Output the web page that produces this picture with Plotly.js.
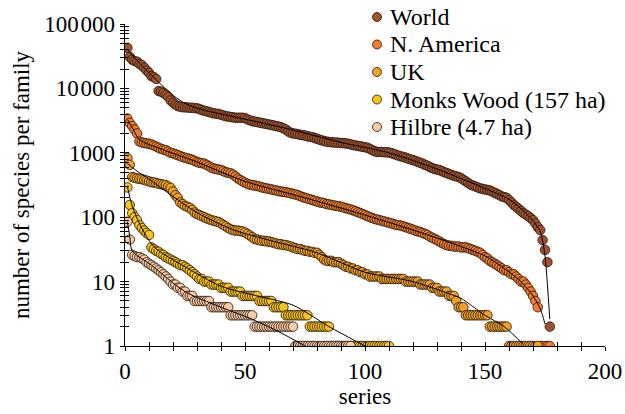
<!DOCTYPE html>
<html><head><meta charset="utf-8">
<script src="https://cdn.plot.ly/plotly-3.0.1.min.js"></script>
<style>html,body{margin:0;padding:0;background:#fff}#chart{width:625px;height:414px}</style>
</head><body><div id="chart"></div>
<script>
const seriesNames = ['World', 'N. America', 'UK', 'Monks Wood (157 ha)', 'Hilbre (4.7 ha)'];
const seriesColors = ['#a0522d', '#f07d2c', '#eea126', '#f5c518', '#f6cba8'];

const world = [42600,30800,27800,26500,26000,24000,23000,21000,19000,17500,15500,15000,14000,9100,8900,8500,8000,7400,6500,6000,
5600,5300,5200,5100,5100,5050,5000,5000,4950,4900,4800,4600,4500,4400,4300,4200,4100,4050,4000,3900,
3800,3700,3650,3600,3550,3500,3500,3500,3500,3450,3300,3200,3100,3050,3000,2950,2900,2850,2800,2750,
2700,2650,2600,2550,2500,2400,2300,2150,2050,2000,1980,1950,1900,1880,1850,1800,1780,1750,1700,1650,
1600,1560,1520,1490,1470,1460,1450,1440,1430,1420,1410,1400,1380,1350,1320,1300,1280,1260,1240,1220,
1200,1150,1100,1060,1030,1030,1030,1020,1020,1010,990,960,930,900,880,860,840,810,790,770,
750,720,700,680,650,630,600,580,560,550,540,520,500,485,470,455,440,430,420,405,
380,360,340,320,310,300,290,280,275,270,265,260,250,240,230,220,210,205,200,185,
170,155,145,135,125,116,110,104,97,90,80,70,63,44,31,20,2];

const nAmerica = [3400,2900,2600,2300,2000,1500,1450,1420,1400,1380,1350,1300,1250,1200,1150,1120,1100,1050,1000,980,
950,920,890,860,840,820,800,780,750,720,700,690,680,650,620,590,570,560,550,540,
520,500,490,480,460,430,400,380,360,345,330,320,315,310,305,300,290,285,280,275,
270,265,260,255,250,248,245,240,235,230,225,220,212,205,200,195,190,185,180,175,
170,168,165,160,158,155,152,150,148,145,142,138,135,132,128,124,120,116,112,108,
104,100,97,94,92,90,88,86,84,82,80,78,76,75,74,72,70,68,66,64,
62,60,59,57,55,53,50,48,46,44,42,40,38,37,36,36,35,35,35,34,
34,34,33,32,31,30,29,28,26,24,23,21,20,19,18,17,16,15,15,14,
13,13,12,11,10,10,9,8,7,6,5,4,1,1,1,1,1];

const uk = [830,650,420,410,400,395,390,380,370,360,350,345,340,330,325,320,315,300,285,250,
220,200,170,160,150,145,140,130,118,112,108,104,100,96,93,90,88,86,84,80,
76,72,68,65,63,62,62,61,60,58,55,52,49,46,45,44,43,43,42,42,
41,40,39,38,38,37,37,36,35,34,33,32,32,31,30,30,29,29,28,28,
26,24,22,21,21,21,20,20,20,19,18,17,17,16,16,15,15,14,14,13,
13,12,12,12,12,12,11,11,11,11,11,11,11,11,11,11,10,10,10,10,
10,10,9,9,9,9,9,8,8,8,7,7,7,7,6,6,6,5,4,4,
4,3,3,3,3,3,3,3,3,3,3,2,2,2,2,2,2,2,2,1,
1,1,1,1,1,1,1,1,1,1,1,1];

const monksWood = [290,155,116,100,90,75,68,62,57,53,34,32,30,29,27,26,24,23,22,21,
20,19,18,18,17,16,15,14,13,12,11,11,10,10,10,9,9,9,9,8,
8,8,8,7,7,7,7,7,6,6,6,6,6,6,6,5,5,5,5,5,
5,4,4,4,4,4,3,3,3,3,3,3,3,3,3,3,2,2,2,2,
2,2,2,2,2,1,1,1,1,1,1,1,1,1,1,1,1,1,1,1,
1,1,1,1,1,1,1,1,1,1];

const hilbre = [85,45,26,25,24,24,23,22,20,19,18,17,16,15,14,13,12,11,10,9,
9,8,8,7,7,6,6,6,5,5,5,5,5,5,5,4,4,4,4,4,
4,4,4,3,3,3,3,3,3,3,3,3,3,2,2,2,2,2,2,2,
2,2,2,2,2,2,2,2,2,2,1,1,1,1,1,1,1,1,1,1,
1,1,1,1,1,1,1,1,1,1,1,1,1,1];

// fitted curves (knots)
const fitWorldX = [1,5,10,15,20,26,33,45,65,90,110,130,150,160,166,170,173,175,176,177];
const fitWorldY = [40000,27000,17500,11500,7800,5600,4600,3650,2500,1450,1000,560,280,190,125,88,60,25,9,2.6];
const fitNAmX = [1,3,6,15,30,50,75,100,125,140,150,158,165,170,173,175];
const fitNAmY = [3300,2500,1600,1150,720,360,200,108,55,35,25,16,10,6,3.8,2.2];
const fitUKX = [1,5,10,20,30,45,60,80,100,120,135,140,150,158,166];
const fitUKY = [680,520,390,210,118,64,44,28,14,10,6.5,5.5,3,2,1.05];
const fitMWX = [1,3,6,12,25,40,55,70,85,100];
const fitMWY = [300,150,80,35,17,8.5,6,4.3,2,1];
const fitHilX = [1,2,3,11,25,40,53,65,75];
const fitHilY = [85,50,30,18,7,4,2.6,1.6,1];

const seriesData = [world, nAmerica, uk, monksWood, hilbre];
const fits = [[fitWorldX,fitWorldY],[fitNAmX,fitNAmY],[fitUKX,fitUKY],[fitMWX,fitMWY],[fitHilX,fitHilY]];

const markerLine = 'rgba(50,30,15,0.85)';
const traces = [];
seriesData.forEach((vals, i) => {
  traces.push({
    type: 'scatter', mode: 'markers', name: seriesNames[i],
    x: vals.map((v, k) => k + 1), y: vals,
    marker: {color: seriesColors[i], size: 9.5, line: {color: markerLine, width: 1}},
    hoverinfo: 'skip'
  });
});
fits.forEach(f => {
  traces.push({
    type: 'scatter', mode: 'lines', x: f[0], y: f[1], showlegend: false,
    line: {color: '#000', width: 1, shape: 'spline', smoothing: 0.8}, hoverinfo: 'skip'
  });
});
traces.push({type:'scatter', mode:'markers', x:[null], y:[null], xaxis:'x2', yaxis:'y2', showlegend:false, hoverinfo:'skip'});

const fontFam = 'Liberation Serif, Times New Roman, serif';
const yTickVals = [1, 10, 100, 1000, 10000, 100000];
const yTickText = ['1', '10', '100', '1000', '10\u200A000', '100\u200A000'];
const xTickVals = [0, 50, 100, 150, 200];
const minorX = [10,20,30,40,60,70,80,90,110,120,130,140,160,170,180,190];

// legend (drawn as paper-positioned symbols + labels)
const plotL = 125, plotW = 480, plotT = 24, plotH = 322;
const legendRowsPx = [17, 44.5, 72, 99.5, 127];
const legendDotPx = 377, legendTextPx = 388;
const px2x = p => (p - plotL) / plotW;
const px2y = p => (plotT + plotH - p) / plotH;

const annotations = seriesNames.map((n, i) => ({
  xref: 'paper', yref: 'paper', x: px2x(legendTextPx), y: px2y(legendRowsPx[i]),
  xanchor: 'left', yanchor: 'middle', text: n, showarrow: false,
  font: {family: fontFam, size: 24, color: '#000'}
}));
const shapes = seriesNames.map((n, i) => ({
  type: 'circle', xref: 'paper', yref: 'paper', xsizemode: 'pixel', ysizemode: 'pixel',
  xanchor: px2x(legendDotPx), yanchor: px2y(legendRowsPx[i]),
  x0: -4.5, x1: 4.5, y0: -4.5, y1: 4.5,
  fillcolor: seriesColors[i], line: {color: markerLine, width: 1}
}));

const axBase = {showgrid:false, zeroline:false, showline:true, linecolor:'#000', linewidth:1.3, tickcolor:'#000', tickwidth:1};

const layout = {
  width: 625, height: 414,
  margin: {l:125, r:20, t:24, b:68},
  paper_bgcolor: '#fff', plot_bgcolor: '#fff',
  font: {family: fontFam, size: 23, color: '#000'},
  showlegend: false,
  annotations: annotations,
  shapes: shapes,
  xaxis: Object.assign({}, axBase, {
    range: [0, 200], tickvals: xTickVals, ticks: 'outside', ticklen: 4,
    minor: {tickvals: minorX, ticks: 'outside', ticklen: 4, tickcolor: '#000', showgrid: false},
    title: {text: 'series', standoff: 4, font: {family: fontFam, size: 23}},
    tickfont: {family: fontFam, size: 23}
  }),
  yaxis: Object.assign({}, axBase, {
    type: 'log', range: [0, 5], tickvals: yTickVals, ticktext: yTickText, ticks: 'outside', ticklen: 4,
    minor: {dtick: 'D1', ticks: 'outside', ticklen: 4, tickcolor: '#000', showgrid: false},
    title: {text: 'number of species per family', standoff: 8, font: {family: fontFam, size: 23}},
    tickfont: {family: fontFam, size: 23}
  }),
  xaxis2: Object.assign({}, axBase, {
    overlaying: 'x', anchor: 'y2', range: [0, 200], tickvals: xTickVals, ticks: 'inside', ticklen: 4, showticklabels: false,
    minor: {tickvals: minorX, ticks: 'inside', ticklen: 4, tickcolor: '#000', showgrid: false}
  }),
  yaxis2: Object.assign({}, axBase, {
    overlaying: 'y', anchor: 'x2', type: 'log', range: [0, 5], tickvals: yTickVals, ticks: 'inside', ticklen: 4, showticklabels: false,
    minor: {dtick: 'D1', ticks: 'inside', ticklen: 4, tickcolor: '#000', showgrid: false}
  })
};

Plotly.newPlot('chart', traces, layout, {staticPlot: true});
</script>
</body></html>
